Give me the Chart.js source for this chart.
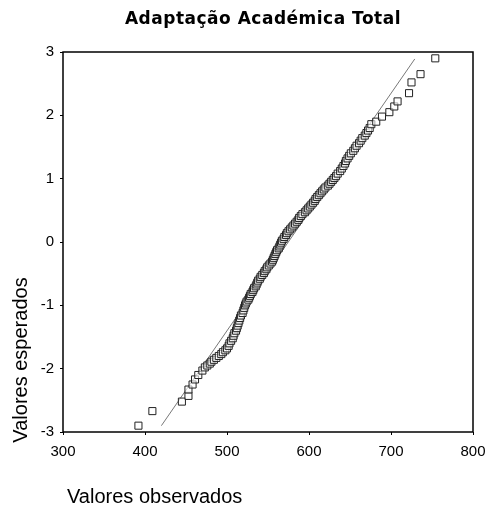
<!DOCTYPE html>
<html>
<head>
<meta charset="utf-8">
<script src="https://cdn.jsdelivr.net/npm/chart.js@4.4.0/dist/chart.umd.min.js"></script>
<style>
  html, body { margin: 0; padding: 0; background: #fff; }
  #wrap { width: 489px; height: 514px; position: relative; }
</style>
</head>
<body>
<div id="wrap"><canvas id="qq"></canvas></div>
<script>
const observedValues = [
    392, 409, 445, 453, 453, 458, 461, 465, 470,
    473, 476, 479, 481, 484, 487, 490, 493, 495, 498, 500,
    502, 503, 505, 507, 508, 509, 511, 512, 513, 514, 515, 516, 517, 519, 520, 521, 522,
    523, 524, 526, 527, 528, 529, 531, 532, 533, 535, 536, 537, 538, 540, 541, 543, 545,
    546, 548, 549, 551, 553, 555, 556, 557, 558, 559, 560, 561, 563, 564, 565, 566,
    567, 569, 570, 572, 573, 575, 577, 579, 581, 583, 585, 587, 588, 590, 592, 595,
    597, 599, 601, 603, 605, 607, 608, 610, 612, 614, 616, 618, 620, 623, 625, 627,
    629, 631, 633, 635, 638, 640, 642, 644, 645, 647, 649, 651, 654, 656, 658, 661,
    663, 665, 668, 670, 672, 674, 676,
    682, 689, 698, 704, 708, 722, 725, 736, 754
];
const expectedValues = [
    -2.90, -2.67, -2.52, -2.43, -2.33, -2.25, -2.17, -2.10, -2.03,
    -1.98, -1.95, -1.92, -1.89, -1.86, -1.83, -1.80, -1.77, -1.74, -1.71, -1.68,
    -1.64, -1.60, -1.56, -1.52, -1.48, -1.44, -1.40, -1.36, -1.32, -1.28, -1.24, -1.20, -1.16, -1.12, -1.08, -1.04, -1.00,
    -0.97, -0.94, -0.91, -0.88, -0.85, -0.82, -0.79, -0.76, -0.73, -0.70, -0.67, -0.64, -0.61, -0.58, -0.55, -0.52, -0.49,
    -0.46, -0.43, -0.40, -0.37, -0.34, -0.31, -0.28, -0.25, -0.22, -0.19, -0.16, -0.13, -0.10, -0.07, -0.04, -0.01,
    0.02, 0.05, 0.08, 0.11, 0.14, 0.17, 0.20, 0.23, 0.26, 0.29, 0.32, 0.35, 0.38, 0.41, 0.44, 0.47,
    0.50, 0.53, 0.56, 0.59, 0.62, 0.65, 0.68, 0.71, 0.74, 0.77, 0.80, 0.83, 0.86, 0.89, 0.92, 0.95,
    0.98, 1.01, 1.04, 1.08, 1.12, 1.16, 1.20, 1.24, 1.28, 1.32, 1.36, 1.40, 1.44, 1.48, 1.52, 1.56,
    1.60, 1.64, 1.68, 1.72, 1.76, 1.80, 1.86,
    1.90, 1.98, 2.05, 2.14, 2.22, 2.35, 2.52, 2.65, 2.90
];
// normal reference line end points
const lineX = [420, 729];
const lineY = [-2.9, 2.89];

const xTicks = [300, 400, 500, 600, 700, 800];
const yTicks = [-3, -2, -1, 0, 1, 2, 3];

const chartTitle = 'Adaptação Académica Total';
const xTitle = 'Valores observados';
const yTitle = 'Valores esperados';

const points = observedValues.map((v, i) => ({ x: v, y: expectedValues[i] }));
const linePoints = lineX.map((v, i) => ({ x: v, y: lineY[i] }));

// frame around the plot + titles
const decorPlugin = {
    id: 'decor',
    afterDraw(chart) {
        const { ctx, chartArea } = chart;
        ctx.save();
        ctx.strokeStyle = '#000';
        ctx.lineWidth = 1.5;
        ctx.strokeRect(chartArea.left, chartArea.top, chartArea.right - chartArea.left, chartArea.bottom - chartArea.top);

        ctx.fillStyle = '#000';
        ctx.font = 'bold 17px "DejaVu Sans"';
        ctx.letterSpacing = '0.5px';
        ctx.textAlign = 'center';
        ctx.textBaseline = 'middle';
        ctx.fillText(chartTitle, 263, 20);
        ctx.letterSpacing = '0px';

        ctx.font = '20px "Liberation Sans"';
        ctx.textAlign = 'left';
        ctx.fillText(xTitle, 67, 497);

        ctx.translate(21, 360);
        ctx.rotate(-Math.PI / 2);
        ctx.textAlign = 'center';
        ctx.fillText(yTitle, 0, 0);
        ctx.restore();
    }
};

new Chart(document.getElementById('qq'), {
    type: 'scatter',
    data: {
        datasets: [{
            label: 'observados',
            data: points,
            pointStyle: 'rect',
            pointRadius: 5,
            pointHoverRadius: 5,
            borderColor: '#222',
            borderWidth: 1,
            backgroundColor: 'rgba(255,255,255,0.6)',
        }, {
            type: 'line',
            label: 'normal',
            data: linePoints,
            borderColor: '#555',
            borderWidth: 0.8,
            pointRadius: 0,
            fill: false,
        }]
    },
    options: {
        responsive: true,
        maintainAspectRatio: false,
        animation: false,
        layout: { padding: { top: 52, right: 16, bottom: 52, left: 0 } },
        plugins: {
            legend: { display: false },
            title: { display: false },
            tooltip: { enabled: false }
        },
        scales: {
            x: {
                type: 'linear',
                min: 300,
                max: 800,
                afterBuildTicks: (scale) => { scale.ticks = xTicks.map(v => ({ value: v })); },
                afterFit: (scale) => {
                    scale.height = 30;
                    scale.paddingLeft = 0;
                    scale.paddingRight = 0;
                },
                grid: { drawOnChartArea: false, drawTicks: true, tickLength: 3, color: '#000' },
                border: { display: false },
                ticks: { color: '#000', font: { family: 'Liberation Sans', size: 15 }, padding: 8, maxRotation: 0 }
            },
            y: {
                type: 'linear',
                min: -3,
                max: 3,
                afterBuildTicks: (scale) => { scale.ticks = yTicks.map(v => ({ value: v })); },
                afterFit: (scale) => {
                    scale.width = 63;
                    scale.paddingTop = 0;
                    scale.paddingBottom = 0;
                },
                grid: { drawOnChartArea: false, drawTicks: true, tickLength: 3, color: '#000' },
                border: { display: false },
                ticks: { color: '#000', font: { family: 'Liberation Sans', size: 15 }, padding: 6 }
            }
        }
    },
    plugins: [decorPlugin]
});
</script>
</body>
</html>
